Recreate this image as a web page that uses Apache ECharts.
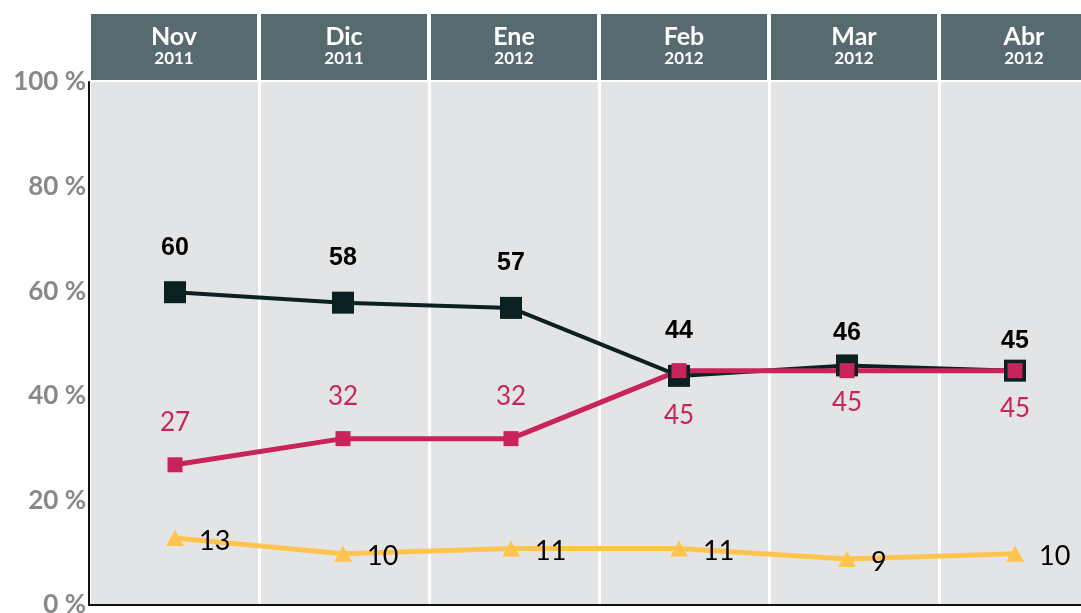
<!DOCTYPE html>
<html>
  <head>
    <meta charset="utf-8" />
    <title>Encuesta</title>
    <script src="https://cdn.jsdelivr.net/npm/echarts@6.0.0/dist/echarts.min.js"></script>
    <style>
      html, body { margin: 0; padding: 0; background: #fff; }
    </style>
  </head>
  <body>
    <div id="chart" style="width: 1081px;height:613px;"></div>
    <script type="text/javascript">

      // datos
      var meses = ['Nov', 'Dic', 'Ene', 'Feb', 'Mar', 'Abr'];
      var anios = ['2011', '2011', '2012', '2012', '2012', '2012'];
      var serieNegra = [60, 58, 57, 44, 46, 45];
      var serieRoja = [27, 32, 32, 45, 45, 45];
      var serieAmarilla = [13, 10, 11, 11, 9, 10];

      // separacion de las etiquetas (solo estilo)
      var gapNegra = [21, 21, 21, 21, 9, 6];
      var gapRoja = [22, 22, 22, 24, 11, 17];

      var chart = echarts.init(document.getElementById('chart'));

      var cats = meses.map(function (m, i) { return m + '|' + anios[i]; });

      var dataNegra = serieNegra.map(function (v, i) {
        return { value: v, label: { distance: gapNegra[i] } };
      });
      var dataRoja = serieRoja.map(function (v, i) {
        return { value: v, label: { position: i < 3 ? 'top' : 'bottom', distance: gapRoja[i] } };
      });

      var option = {
        animation: false,
        backgroundColor: '#ffffff',
        grid: [
          { left: 89, top: 82, width: 1020, height: 523, show: true, backgroundColor: '#e3e4e6', borderWidth: 0, outerBoundsMode: 'none', containLabel: false },
          { left: 91, top: 83, width: 1008, height: 523, outerBoundsMode: 'none', containLabel: false }
        ],
        xAxis: [
          {
            gridIndex: 0,
            type: 'category',
            position: 'top',
            data: cats,
            boundaryGap: true,
            axisLine: { show: false },
            axisTick: { show: false },
            splitLine: { show: true, lineStyle: { color: '#ffffff', width: 3 } },
            axisLabel: {
              margin: 2,
              interval: 0,
              backgroundColor: '#576a6f',
              width: 166,
              padding: [10, 0, 12, 0],
              align: 'center',
              formatter: function (v) {
                var p = v.split('|');
                return '{m|' + p[0] + '}\n{y|' + p[1] + '}';
              },
              rich: {
                m: { fontFamily: 'Lato', fontWeight: 'bold', fontSize: 25, color: '#ffffff', lineHeight: 26, align: 'center' },
                y: { fontFamily: 'Lato', fontWeight: 'bold', fontSize: 17, color: '#ffffff', lineHeight: 18, align: 'center' }
              }
            }
          },
          {
            gridIndex: 0,
            type: 'category',
            position: 'bottom',
            data: meses,
            boundaryGap: true,
            axisLine: { show: true, lineStyle: { color: '#111111', width: 2 } },
            axisTick: { show: false },
            axisLabel: { show: false },
            splitLine: { show: false }
          },
          {
            gridIndex: 1,
            type: 'category',
            data: meses,
            boundaryGap: true,
            show: false
          }
        ],
        yAxis: [
          {
            gridIndex: 0,
            type: 'value',
            min: 0,
            max: 100,
            interval: 20,
            axisLine: { show: true, lineStyle: { color: '#111111', width: 2 } },
            axisTick: { show: false },
            splitLine: { show: false },
            axisLabel: {
              margin: 3,
              formatter: '{value} %',
              fontFamily: 'Lato',
              fontWeight: 'bold',
              fontSize: 26,
              color: '#888888'
            }
          },
          {
            gridIndex: 1,
            type: 'value',
            min: 0,
            max: 100,
            show: false
          }
        ],
        series: [
          {
            type: 'line',
            xAxisIndex: 2,
            yAxisIndex: 1,
            data: serieAmarilla,
            symbol: 'triangle',
            symbolSize: [18, 16],
            lineStyle: { color: '#ffc44d', width: 5 },
            itemStyle: { color: '#ffc44d' },
            label: {
              show: true,
              position: 'right',
              distance: 15,
              offset: [0, 3],
              fontFamily: 'Lato',
              fontSize: 27,
              color: '#000000'
            }
          },
          {
            type: 'line',
            xAxisIndex: 2,
            yAxisIndex: 1,
            data: dataNegra,
            symbol: 'rect',
            symbolSize: 22,
            lineStyle: { color: '#0b2020', width: 4 },
            itemStyle: { color: '#0b2020' },
            label: {
              show: true,
              position: 'top',
              fontFamily: 'Liberation Sans',
              fontWeight: 'bold',
              fontSize: 25,
              color: '#000000'
            }
          },
          {
            type: 'line',
            xAxisIndex: 2,
            yAxisIndex: 1,
            data: dataRoja,
            symbol: 'rect',
            symbolSize: 15,
            lineStyle: { color: '#c8245a', width: 5 },
            itemStyle: { color: '#c8245a' },
            label: {
              show: true,
              fontFamily: 'Lato',
              fontSize: 26,
              color: '#c8245a'
            }
          }
        ]
      };
      chart.setOption(option);
    </script>
  </body>
</html>
